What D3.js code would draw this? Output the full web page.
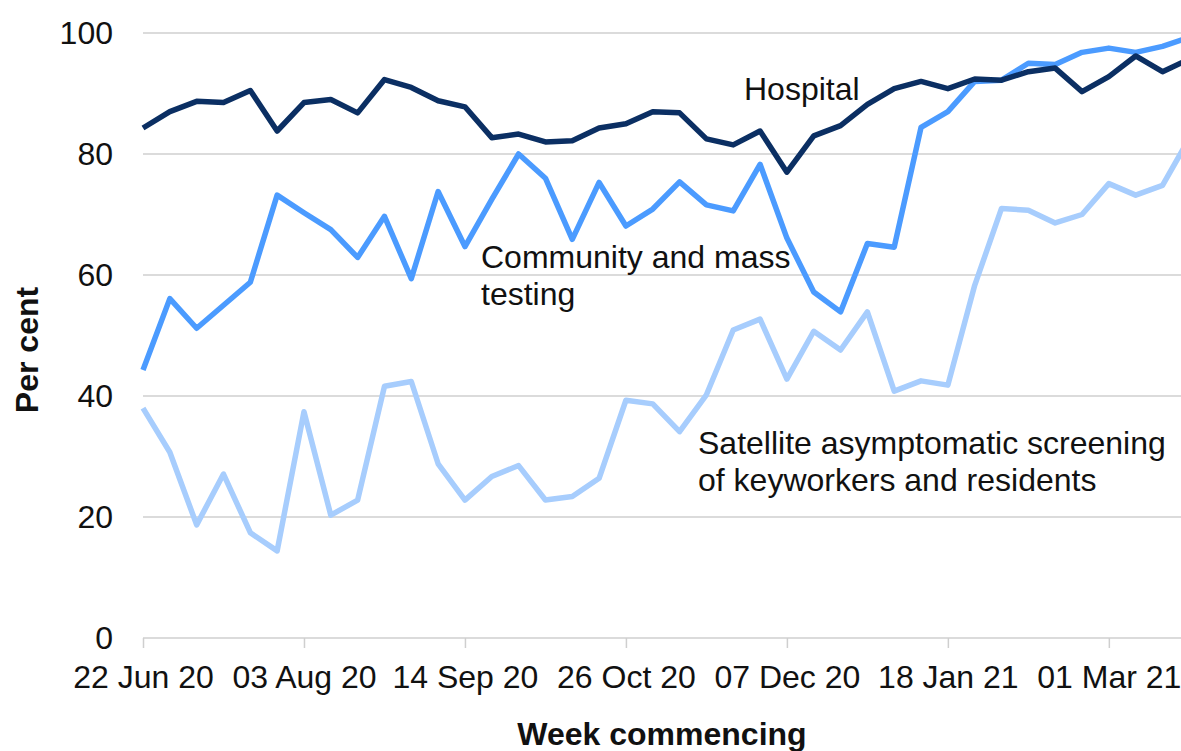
<!DOCTYPE html>
<html>
<head>
<meta charset="utf-8">
<script src="https://cdn.jsdelivr.net/npm/d3@7"></script>
<style>
  html, body { margin: 0; padding: 0; background: #fff; }
  svg { display: block; font-family: "Liberation Sans", Arial, sans-serif; }
</style>
</head>
<body>
<div id="viz"></div>
<script>
// week index 0 = w/c 22 Jun 20, one point per week
const tickWeeks = [0, 6, 12, 18, 24, 30, 36];
const tickLabels = ["22 Jun 20", "03 Aug 20", "14 Sep 20", "26 Oct 20", "07 Dec 20", "18 Jan 21", "01 Mar 21"];
const yTicks = [0, 20, 40, 60, 80, 100];

const hospital = [84.3, 87.0, 88.7, 88.5, 90.5, 83.8, 88.5, 89.0, 86.8, 92.3,
  91.0, 88.8, 87.8, 82.7, 83.3, 82.0, 82.2, 84.3, 85.0, 87.0,
  86.8, 82.5, 81.5, 83.8, 77.0, 83.0, 84.7, 88.2, 90.8, 92.0,
  90.8, 92.4, 92.2, 93.6, 94.2, 90.3, 92.8, 96.2, 93.6, 95.7];

const community = [44.3, 56.1, 51.2, 55.0, 58.8, 73.2, 70.3, 67.5, 62.9, 69.7,
  59.4, 73.8, 64.7, 72.5, 80.0, 76.0, 65.9, 75.3, 68.1, 70.9,
  75.4, 71.6, 70.6, 78.3, 66.1, 57.2, 53.9, 65.2, 64.6, 84.4,
  87.0, 92.0, 92.2, 95.0, 94.8, 96.8, 97.5, 96.8, 97.8, 99.3];

const satellite = [38.0, 30.7, 18.7, 27.1, 17.4, 14.4, 37.4, 20.3, 22.8, 41.6,
  42.4, 28.8, 22.8, 26.7, 28.5, 22.8, 23.4, 26.4, 39.3, 38.7,
  34.1, 40.2, 50.9, 52.7, 42.8, 50.7, 47.6, 53.9, 40.8, 42.5,
  41.8, 58.3, 71.0, 70.7, 68.6, 70.0, 75.1, 73.2, 74.8, 82.6];

const series = [
  {name: "Satellite", values: satellite, color: "#a7cdfd"},
  {name: "Community", values: community, color: "#4b9bff"},
  {name: "Hospital", values: hospital, color: "#0b2f63"}
];

const labels = [
  {lines: ["Hospital"], wx: 744, wy: 100},
  {lines: ["Community and mass", "testing"], wx: 481, wy: 268},
  {lines: ["Satellite asymptomatic screening", "of keyworkers and residents"], wx: 698, wy: 454}
];

const FS = 32;
const W = 1181, H = 751;
const svg = d3.select("#viz").append("svg").attr("width", W).attr("height", H);

const x = d3.scaleLinear().domain([0, 38]).range([143, 1162.5]);
const y = d3.scaleLinear().domain([0, 100]).range([638, 33]);

// gridlines
svg.append("g").selectAll("line")
  .data(yTicks)
  .join("line")
  .attr("x1", x(0)).attr("x2", W)
  .attr("y1", d => y(d)).attr("y2", d => y(d))
  .attr("stroke", "#cfcfcf")
  .attr("stroke-width", 1.5);

// x axis
const xAxis = svg.append("g")
  .attr("transform", `translate(0,${y(0)})`)
  .call(d3.axisBottom(x)
    .tickValues(tickWeeks)
    .tickFormat((d, i) => tickLabels[i])
    .tickSize(10)
    .tickPadding(17));
xAxis.select(".domain").remove();
xAxis.selectAll(".tick line").attr("stroke", "#cfcfcf").attr("stroke-width", 1.5);
xAxis.selectAll("text").attr("font-size", FS).attr("fill", "#111")
  .attr("font-family", "Liberation Sans, Arial, sans-serif");

// y axis
const yAxis = svg.append("g")
  .attr("transform", `translate(${x(0)},0)`)
  .call(d3.axisLeft(y).tickValues(yTicks).tickSize(0).tickPadding(30));
yAxis.select(".domain").remove();
yAxis.selectAll("text").attr("font-size", FS).attr("fill", "#111")
  .attr("font-family", "Liberation Sans, Arial, sans-serif");

// lines
const line = d3.line().x((d, i) => x(i)).y(d => y(d));
svg.append("g").selectAll("path")
  .data(series)
  .join("path")
  .attr("fill", "none")
  .attr("stroke", d => d.color)
  .attr("stroke-width", 5.5)
  .attr("stroke-linejoin", "round")
  .attr("d", d => line(d.values));

// in-chart labels
labels.forEach(l => {
  const t = svg.append("text")
    .attr("x", l.wx).attr("y", l.wy)
    .attr("font-size", FS).attr("fill", "#111");
  l.lines.forEach((s, i) => {
    t.append("tspan").attr("x", l.wx).attr("dy", i === 0 ? 0 : 37).text(s);
  });
});

// axis titles
svg.append("text")
  .attr("transform", "translate(38,350) rotate(-90)")
  .attr("text-anchor", "middle")
  .attr("font-size", FS).attr("font-weight", 700).attr("fill", "#111")
  .text("Per cent");

svg.append("text")
  .attr("x", 662).attr("y", 745)
  .attr("text-anchor", "middle")
  .attr("font-size", FS).attr("font-weight", 700).attr("fill", "#111")
  .text("Week commencing");
</script>
</body>
</html>
